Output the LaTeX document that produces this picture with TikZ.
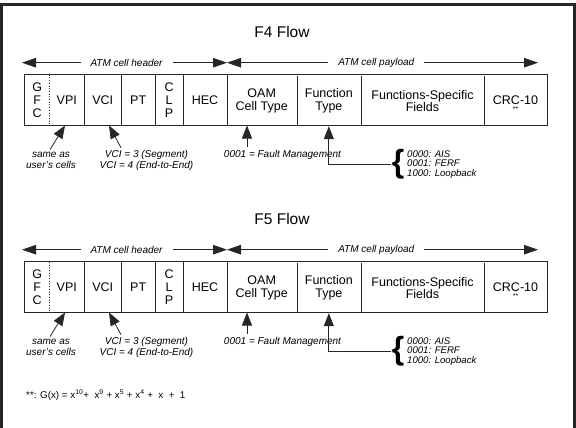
\documentclass[tikz,border=0pt]{standalone}
\usepackage{fontspec}
\setmainfont{Liberation Sans}
\usetikzlibrary{arrows.meta}

\tikzset{
  x=1pt, y=-1pt,
  inkline/.style={draw=black!85},
  frame/.style={line width=3pt, draw=black!85},
  title/.style={font=\fontsize{15.5}{15.5}\selectfont, inner sep=0pt},
  field/.style={font=\fontsize{12.5}{12.7}\selectfont, align=center, inner sep=0pt,
    minimum height=50pt},
  spanlbl/.style={font=\fontsize{10}{10}\selectfont\itshape, fill=white,
    inner xsep=10pt, inner ysep=1pt},
  note/.style={font=\fontsize{10}{11}\selectfont\itshape, align=center, inner sep=0pt},
  codes/.style={font=\fontsize{9.6}{9.3}\selectfont\itshape, align=left, inner sep=0pt},
  span/.style={inkline, line width=0.8pt, {Triangle[length=14pt,width=9.5pt]}-{Triangle[length=14pt,width=9.5pt]}},
  ptr/.style={inkline, line width=0.8pt, -{Triangle[length=13pt,width=10pt]}},
  cellbox/.style={inkline, line width=0.7pt},
}

% one OAM cell layout: #1 name prefix, #2 title, #3 vertical offset
\newcommand\oamrow[3]{%
\begin{scope}[shift={(0,#3)}]
  \node[title] (#1title) at (282,32) {#2};
  % header / payload extent arrows
  \coordinate (#1hl) at (22,62.7);
  \coordinate (#1hm) at (227,62.7);
  \coordinate (#1pr) at (538,62.7);
  \draw[span] (#1hl) -- node[spanlbl, pos=0.51]{ATM cell header} (#1hm);
  \draw[span] (#1hm) -- node[spanlbl, pos=0.48]{ATM cell payload} (#1pr);
  % cell fields
  \node[field, minimum width=24.3pt]  (#1gfc) at (37.15,100) {G\\F\\C};
  \node[field, minimum width=35pt]    (#1vpi) at (66.8,100)  {VPI};
  \node[field, minimum width=37pt]    (#1vci) at (102.8,100) {VCI};
  \node[field, minimum width=33.7pt]  (#1pt)  at (138.15,100) {PT};
  \node[field, minimum width=28.3pt]  (#1clp) at (169.15,100) {C\\L\\P};
  \node[field, minimum width=43.4pt]  (#1hec) at (205,100)   {HEC};
  \node[field, minimum width=70pt]    (#1oam) at (261.7,101) {OAM\\Cell Type};
  \node[field, minimum width=64.3pt]  (#1fun) at (328.85,101) {Function\\Type};
  \node[field, minimum width=123pt]   (#1fsf) at (422.5,101) {Functions-Specific\\Fields};
  \node[field, minimum width=63pt]    (#1crc) at (515.5,100) {CRC-10};
  \node[font=\fontsize{7}{7}\selectfont, inner sep=0pt] (#1crcstar) at (515.5,109.5) {**};
  \draw[cellbox] (#1gfc.north west) rectangle (#1crc.south east);
  \draw[cellbox, dotted] (#1gfc.north east) -- (#1gfc.south east);
  \foreach \f in {vpi,vci,pt,clp,hec,oam,fun,fsf}
    \draw[cellbox] (#1\f.north east) -- (#1\f.south east);
  % annotations below the fields
  \node[note] (#1same) at (51,160.5) {same as\\user's cells};
  \coordinate (#1vpitip) at (65,125.5);
  \draw[ptr] ([xshift=-1pt, yshift=2.5pt]#1same.north) -- (#1vpitip);
  \node[note] (#1vcival) at (146.5,160.5) {VCI = 3 (Segment)\\VCI = 4 (End-to-End)};
  \coordinate (#1vcitip) at (109,125.5);
  \draw[ptr] ([xshift=-25.5pt, yshift=2.5pt]#1vcival.north) -- (#1vcitip);
  \node[note] (#1fault) at (282.5,154.5) {0001 = Fault Management};
  \coordinate (#1oamtip) at (247,125.5);
  \draw[ptr] ([yshift=2.5pt]#1oamtip |- #1fault.north) -- (#1oamtip);
  \node[inner sep=0pt, font=\fontsize{32}{32}\selectfont\bfseries] (#1brace) at (398,164) {\{};
  \node[codes, anchor=west] (#1codes) at (407,164.5) {0000: AIS\\0001: FERF\\1000: Loopback};
  \draw[ptr] ([xshift=-1pt]#1brace.west) -| (#1fun.south);
\end{scope}}

\begin{document}
\begin{tikzpicture}
  \useasboundingbox (0,0) rectangle (576,428);
  \clip (0,0) rectangle (576,428);
  \fill[white] (0,0) rectangle (576,428);
  \draw[frame] (1.5,432) -- (1.5,4.5) -- (574.5,4.5) -- (574.5,432);
  \oamrow{a}{F4 Flow}{0}
  \oamrow{b}{F5 Flow}{187}
  \node[font=\fontsize{9.8}{9.8}\selectfont, anchor=west, inner sep=0pt] (crcpoly) at (26,395)
    {**: G(x) = x\textsuperscript{10}+\ \ x\textsuperscript{9} +\ x\textsuperscript{5} +\ x\textsuperscript{4} +\ \ x\ \ +\ \ 1};
\end{tikzpicture}
\end{document}
